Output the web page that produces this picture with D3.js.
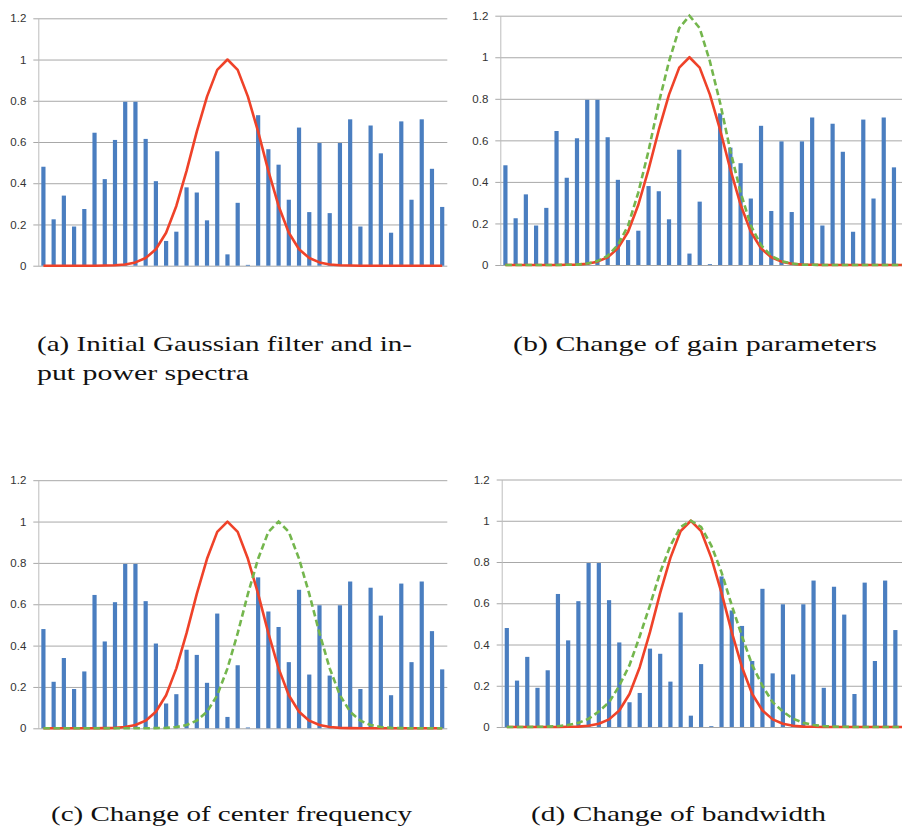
<!DOCTYPE html>
<html>
<head>
<meta charset="utf-8">
<script src="https://cdn.jsdelivr.net/npm/d3@7"></script>
<style>
  body { margin: 0; background: #ffffff; }
  .grid line { stroke: #a8a8a8; stroke-width: 1; }
  .grid path { stroke: #bdbdbd; stroke-width: 1; }
  .grid text { font-family: "Liberation Sans", Arial, sans-serif; font-size: 11.5px; fill: #333; }
  .caption { font-family: "Liberation Serif", "Times New Roman", serif; font-size: 21px; fill: #111; }
</style>
</head>
<body>
<svg id="figure" width="902" height="828"></svg>
<script>
//frequency bins (categories)
var bins = d3.range(1, 41);

//input power spectra (blue bars)
var spectrum = [0.48, 0.225, 0.34, 0.19, 0.275, 0.645, 0.42, 0.61, 0.795, 0.795,
  0.615, 0.41, 0.12, 0.165, 0.38, 0.355, 0.22, 0.555, 0.055, 0.305,
  0.004, 0.73, 0.565, 0.49, 0.32, 0.67, 0.26, 0.595, 0.255, 0.595,
  0.71, 0.19, 0.68, 0.545, 0.16, 0.70, 0.32, 0.71, 0.47, 0.285];

//initial gaussian filter (red line)
var filterInitial = [0, 0, 0, 0, 0, 0, 0.001, 0.002, 0.006, 0.016,
  0.037, 0.08, 0.16, 0.29, 0.46, 0.65, 0.82, 0.95, 1, 0.95,
  0.82, 0.65, 0.46, 0.29, 0.16, 0.08, 0.037, 0.016, 0.006, 0.002,
  0.001, 0, 0, 0, 0, 0, 0, 0, 0, 0];

//changed gain (green dashed, panel b)
var filterGain = [0, 0, 0, 0, 0, 0, 0.001, 0.002, 0.007, 0.019,
  0.044, 0.096, 0.19, 0.35, 0.55, 0.78, 0.98, 1.14, 1.2, 1.14,
  0.98, 0.78, 0.55, 0.35, 0.19, 0.096, 0.044, 0.019, 0.007, 0.002,
  0.001, 0, 0, 0, 0, 0, 0, 0, 0, 0];

//changed center frequency (green dashed, panel c)
var filterShift = [0, 0, 0, 0, 0, 0, 0, 0, 0, 0,
  0, 0.001, 0.002, 0.006, 0.016, 0.037, 0.08, 0.16, 0.29, 0.46,
  0.65, 0.82, 0.95, 1, 0.95, 0.82, 0.65, 0.46, 0.29, 0.16,
  0.08, 0.037, 0.016, 0.006, 0.002, 0.001, 0, 0, 0, 0];

//changed bandwidth (green dashed, panel d)
var filterWide = [0, 0, 0, 0.001, 0.002, 0.004, 0.01, 0.02, 0.04, 0.075,
  0.12, 0.2, 0.3, 0.44, 0.59, 0.75, 0.88, 0.97, 1, 0.97,
  0.88, 0.75, 0.59, 0.44, 0.3, 0.2, 0.12, 0.075, 0.04, 0.02,
  0.01, 0.004, 0.002, 0.001, 0, 0, 0, 0, 0, 0];

var yTicks = [0, 0.2, 0.4, 0.6, 0.8, 1, 1.2];
var yTickLabels = ["0", "0.2", "0.4", "0.6", "0.8", "1", "1.2"];

var captionA = ["(a) Initial Gaussian filter and in-", "put power spectra"];
var captionB = ["(b) Change of gain parameters"];
var captionC = ["(c) Change of center frequency"];
var captionD = ["(d) Change of bandwidth"];

var svg = d3.select("#figure");
var plotWidth = 409;

//layout of the four panels
var panels = [
  {left: 38.3, top: 18.3, bottom: 265.7, extra: null,
   caption: captionA, capX: 37, capY: 351, capW: [375, 212]},
  {left: 500.3, top: 15.7, bottom: 265, extra: filterGain,
   caption: captionB, capX: 513, capY: 351, capW: [364]},
  {left: 38.3, top: 480.2, bottom: 728.3, extra: filterShift,
   caption: captionC, capX: 51, capY: 821, capW: [361]},
  {left: 501.7, top: 479.5, bottom: 727, extra: filterWide,
   caption: captionD, capX: 531, capY: 821, capW: [295]}
];

function drawPanel(p) {
  let x = d3.scaleBand()
    .domain(bins)
    .range([0, plotWidth])
    .paddingInner(0.59)
    .paddingOuter(0.295);
  let y = d3.scaleLinear()
    .domain([0, 1.2])
    .range([p.bottom - p.top, 0]);

  let g = svg.append("g")
    .attr("transform", "translate(" + p.left + "," + p.top + ")");

  //gridlines + y labels
  let axis = g.append("g")
    .attr("class", "grid")
    .call(d3.axisLeft(y)
      .tickValues(yTicks)
      .tickFormat(function(d, i) { return yTickLabels[i]; })
      .tickSizeOuter(0));
  axis.selectAll(".tick line")
    .attr("x1", -5)
    .attr("x2", plotWidth);
  axis.selectAll(".tick text")
    .attr("x", -12);
  axis.select(".domain").raise();

  //bars
  g.selectAll(".bar")
    .data(spectrum)
    .enter()
    .append("rect")
    .attr("class", "bar")
    .attr("x", function(d, i) { return x(bins[i]); })
    .attr("width", x.bandwidth())
    .attr("y", function(d) { return y(d); })
    .attr("height", function(d) { return y(0) - y(d); })
    .attr("fill", "#4a7ec0");

  let line = d3.line()
    .x(function(d, i) { return x(bins[i]) + x.bandwidth() / 2; })
    .y(function(d) { return y(d); });

  g.append("path")
    .datum(filterInitial)
    .attr("d", line)
    .attr("fill", "none")
    .attr("stroke", "#ef4229")
    .attr("stroke-width", 2.6)
    .attr("stroke-linejoin", "round");

  if (p.extra) {
    g.append("path")
      .datum(p.extra)
      .attr("d", line)
      .attr("fill", "none")
      .attr("stroke", "#74b64d")
      .attr("stroke-width", 2.6)
      .attr("stroke-dasharray", "6.5,3.5");
  }

  //caption below the chart
  p.caption.forEach(function(t, i) {
    svg.append("text")
      .attr("class", "caption")
      .attr("x", p.capX)
      .attr("y", p.capY + i * 29)
      .attr("textLength", p.capW[i])
      .attr("lengthAdjust", "spacingAndGlyphs")
      .text(t);
  });
}

for (let p of panels) {
  drawPanel(p);
}
</script>
</body>
</html>
